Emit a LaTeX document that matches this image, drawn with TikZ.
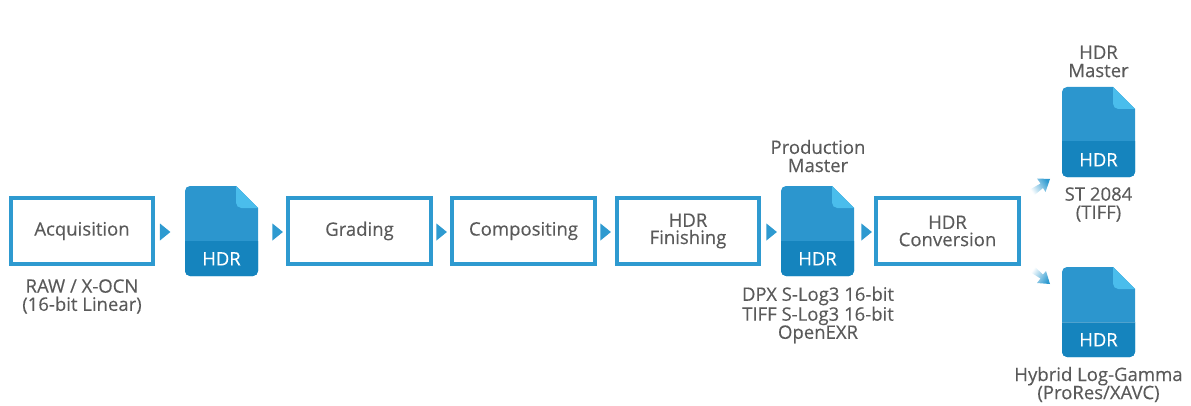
\documentclass[tikz,border=0pt]{standalone}
\usepackage{fontspec}
\setmainfont{Open Sans}[FakeBold=0.25]
\usetikzlibrary{shapes.geometric}
\definecolor{boxblue}{HTML}{2E9AD0}
\definecolor{filebody}{HTML}{2C96CE}
\definecolor{fileband}{HTML}{1584BE}
\definecolor{filefold}{HTML}{4ABDEC}
\definecolor{txt}{HTML}{5A5A5A}
\tikzset{
  x=0.75pt,y=-0.75pt,
  stagebox/.style={draw=boxblue,line width=3pt,fill=white,minimum width=107pt,minimum height=49.5pt,inner sep=0pt,align=center,text=txt,font=\fontsize{13.9}{12.9}\selectfont},
  lbl/.style={inner sep=0pt,align=center,text=txt,font=\fontsize{13.9}{13.6}\selectfont},
  tri/.style={isosceles triangle,isosceles triangle apex angle=80,isosceles triangle stretches,fill=boxblue,draw=none,inner sep=0pt,minimum width=12.75pt,minimum height=7.8pt},
  hdrtext/.style={inner sep=0pt,text=white,font=\fontsize{13.8}{13.8}\selectfont},
}
\newcommand\hdrfile[3]{%
  \begin{scope}[shift={(#2,#3)}]
    \fill[filebody] (51,0) [rounded corners=3.75pt] -- (0,0) -- (0,90) -- (73,90) [sharp corners] -- (73,22) -- cycle;
    \begin{scope}
      \clip (-1,55) rectangle (74,91);
      \fill[fileband] (51,0) [rounded corners=3.75pt] -- (0,0) -- (0,90) -- (73,90) [sharp corners] -- (73,22) -- cycle;
    \end{scope}
    \fill[filefold] (73,22) [rounded corners=4pt] -- (51,22) [sharp corners] -- (51,0) -- cycle;
    \node[hdrtext] (#1) at (36.5,72.8) {HDR};
  \end{scope}}
\begin{document}
\begin{tikzpicture}
\useasboundingbox (0,0) rectangle (1191,406);
\node[stagebox] (acq) at (82,231) {Acquisition};
\node[stagebox] (grad) at (359.5,231) {Grading};
\node[stagebox] (comp) at (523.5,231) {Compositing};
\node[stagebox] (fin) at (688,231) {HDR\\Finishing};
\node[stagebox] (conv) at (947.5,231) {HDR\\Conversion};
\hdrfile{f1}{185}{186}
\hdrfile{f2}{781}{186}
\hdrfile{f3}{1062}{87}
\hdrfile{f4}{1062}{267}
\draw[white,opacity=.25,line width=.6pt] (1062,322) -- (1135,322);
\node[tri] (t1) at (164,232) {};
\node[tri] (t2) at (276.5,232) {};
\node[tri] (t3) at (440.5,232) {};
\node[tri] (t4) at (604.5,232) {};
\node[tri] (t5) at (770.5,232) {};
\node[tri] (t6) at (865.5,232) {};
\node[lbl] (l1) at (82,296.5) {RAW / X-OCN\\(16-bit Linear)};
\node[lbl] (l2) at (818,156) {Production\\Master};
\node[lbl] (l3) at (818,315) {DPX S-Log3 16-bit\\TIFF S-Log3 16-bit\\OpenEXR};
\node[lbl] (l4) at (1098.5,61.5) {HDR\\Master};
\node[lbl] (l5) at (1098.5,204.5) {ST 2084\\(TIFF)};
\node[lbl] (l6) at (1098.5,384.5) {Hybrid Log-Gamma\\(ProRes/XAVC)};
\shade[top color=boxblue,bottom color=white,shading angle=-55] (1030,189.5) -- (1040.5,183.5) -- (1037,178.5) -- (1050,179) -- (1045.5,192) -- (1043,188) -- (1034,195.5) -- cycle;
\shade[top color=boxblue,bottom color=white,shading angle=-125] (1030,272) -- (1040.5,278.5) -- (1037,283) -- (1050,284) -- (1046,271) -- (1043,274.5) -- (1035,267) -- cycle;
\end{tikzpicture}
\end{document}
